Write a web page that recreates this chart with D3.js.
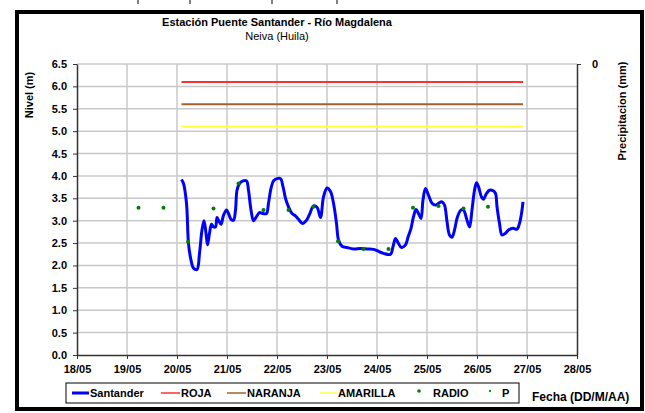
<!doctype html>
<html lang="es">
<head>
<meta charset="utf-8">
<title>Estación Puente Santander</title>
<script src="https://d3js.org/d3.v7.min.js"></script>
<style>
  body { margin: 0; background: #fff; }
  svg text { font-family: Arial, "Liberation Sans", sans-serif; }
  .bold { font-weight: bold; font-size: 11px; }
</style>
</head>
<body>
<div id="chart"></div>
<script>
// nivel Santander (dia decimal de mayo, metros)
const dias = [20.09, 20.13, 20.19, 20.23, 20.28, 20.33, 20.40, 20.45, 20.50, 20.54, 20.58, 20.61, 20.65, 20.69,
  20.73, 20.77, 20.80, 20.83, 20.88, 20.93, 20.99, 21.03, 21.08, 21.13, 21.17, 21.20, 21.25, 21.32, 21.39,
  21.43, 21.48, 21.53, 21.59, 21.65, 21.72, 21.79, 21.83, 21.88, 21.93, 22.00, 22.07, 22.12, 22.17, 22.23,
  22.30, 22.37, 22.43, 22.51, 22.59, 22.65, 22.73, 22.80, 22.87, 22.93, 23.00, 23.07, 23.13, 23.19, 23.23,
  23.30, 23.40, 23.53, 23.67, 23.80, 23.93, 24.00, 24.13, 24.27, 24.32, 24.37, 24.42, 24.49, 24.57, 24.62,
  24.68, 24.73, 24.78, 24.83, 24.88, 24.92, 24.97, 25.03, 25.10, 25.17, 25.23, 25.30, 25.35, 25.40, 25.45,
  25.50, 25.55, 25.61, 25.68, 25.73, 25.79, 25.85, 25.90, 25.95, 25.99, 26.03, 26.09, 26.13, 26.19, 26.25,
  26.32, 26.37, 26.40, 26.45, 26.50, 26.57, 26.63, 26.72, 26.80, 26.85, 26.89, 26.92]
const nivel = [3.92, 3.83, 3.39, 2.49, 2.12, 1.94, 1.91, 2.27, 2.79, 3.00, 2.72, 2.46, 2.72, 2.92,
  2.86, 2.86, 3.07, 3.01, 2.92, 3.12, 3.24, 3.16, 3.03, 3.01, 3.24, 3.68, 3.83, 3.89, 3.89,
  3.68, 3.24, 3.00, 3.09, 3.18, 3.16, 3.16, 3.39, 3.72, 3.89, 3.94, 3.94, 3.76, 3.50, 3.31,
  3.16, 3.11, 3.03, 2.94, 3.01, 3.14, 3.33, 3.30, 3.07, 3.53, 3.73, 3.65, 3.39, 2.94, 2.57,
  2.43, 2.40, 2.37, 2.38, 2.37, 2.36, 2.33, 2.27, 2.25, 2.42, 2.60, 2.51, 2.40, 2.46, 2.63,
  2.83, 3.09, 3.25, 3.16, 3.05, 3.46, 3.72, 3.57, 3.39, 3.35, 3.39, 3.42, 3.35, 2.98, 2.68,
  2.63, 2.79, 3.09, 3.24, 3.24, 3.05, 2.86, 3.24, 3.68, 3.85, 3.76, 3.53, 3.48, 3.61, 3.68,
  3.67, 3.61, 3.31, 2.94, 2.68, 2.72, 2.79, 2.83, 2.81, 2.94, 3.16, 3.42]

// lecturas por radio
const radioDias = [19.23, 19.73, 20.22, 20.73, 21.23, 21.73, 22.23, 22.73, 23.22, 23.73, 24.23, 24.72, 25.23, 25.73, 26.22]
const radioNivel = [3.29, 3.29, 2.53, 3.27, 3.83, 3.24, 3.24, 3.31, 2.54, 2.37, 2.37, 3.29, 3.33, 3.27, 3.31]

// umbrales de alerta
const alertas = ['ROJA', 'NARANJA', 'AMARILLA']
const alertaNivel = [6.1, 5.6, 5.1]
const alertaColor = ['#ff3030', '#a0622d', '#ffff40']

const fechaTicks = d3.range(18, 29)
const nivelTicks = d3.range(0, 6.51, 0.5)

const width = 645, height = 413
const svg = d3.select('#chart').append('svg')
  .attr('width', width).attr('height', height)

const x = d3.scaleLinear().domain([18, 28]).range([77, 577])
const y = d3.scaleLinear().domain([0, 6.5]).range([355, 64])

// marcas sueltas arriba del marco
svg.append('g').selectAll('line')
  .data([138, 190, 272, 337])
  .enter().append('line')
  .attr('x1', d => d).attr('x2', d => d)
  .attr('y1', 0).attr('y2', 4)
  .attr('stroke', '#000').attr('stroke-width', 1)

// marco
svg.append('rect')
  .attr('x', 17).attr('y', 12)
  .attr('width', 625).attr('height', 397)
  .attr('fill', 'none').attr('stroke', '#000').attr('stroke-width', 4)

svg.append('text').attr('class', 'bold')
  .attr('x', 277).attr('y', 26).attr('text-anchor', 'middle')
  .text('Estación Puente Santander - Río Magdalena')
svg.append('text')
  .attr('x', 277).attr('y', 40).attr('text-anchor', 'middle')
  .style('font-size', '11px')
  .text('Neiva (Huila)')

// rejilla
svg.append('g').selectAll('line')
  .data(nivelTicks.slice(1))
  .enter().append('line')
  .attr('x1', x(18)).attr('x2', x(28))
  .attr('y1', d => y(d)).attr('y2', d => y(d))
  .attr('stroke', '#c8c8c8').attr('stroke-width', 1.5)
svg.append('g').selectAll('line')
  .data(fechaTicks.slice(1, -1))
  .enter().append('line')
  .attr('x1', d => x(d)).attr('x2', d => x(d))
  .attr('y1', y(0)).attr('y2', y(6.5))
  .attr('stroke', '#c8c8c8').attr('stroke-width', 1.5)

// ejes
const yAxis = svg.append('g')
  .attr('transform', `translate(${x(18)},0)`)
  .call(d3.axisLeft(y).tickValues(nivelTicks).tickFormat(d3.format('.1f')).tickSize(4).tickSizeOuter(0))
const xAxis = svg.append('g')
  .attr('transform', `translate(0,${y(0)})`)
  .call(d3.axisBottom(x).tickValues(fechaTicks)
    .tickFormat(d => d3.format('02d')(d) + '/05').tickSize(4).tickSizeOuter(0))
const y2 = d3.scaleLinear().domain([0, 1]).range([y(6.5), y(0)])
const yAxis2 = svg.append('g')
  .attr('transform', `translate(${x(28)},0)`)
  .call(d3.axisRight(y2).tickValues([0]).tickFormat(d3.format('d')).tickSize(4).tickSizeOuter(0))
yAxis2.selectAll('text').attr('dx', 8)

;[yAxis, xAxis, yAxis2].forEach(g => {
  g.select('.domain').attr('stroke', '#333').attr('stroke-width', 1.5)
  g.selectAll('.tick line').attr('stroke', '#333')
  g.selectAll('text').attr('class', 'bold').attr('fill', '#000')
})
yAxis.selectAll('text').attr('x', -10)
xAxis.selectAll('text').attr('y', 10)

svg.append('text').attr('class', 'bold')
  .attr('transform', 'translate(33,95) rotate(-90)')
  .attr('text-anchor', 'middle').text('Nivel (m)')
svg.append('text').attr('class', 'bold')
  .attr('transform', 'translate(626,111) rotate(-90)')
  .attr('text-anchor', 'middle').text('Precipitacion (mm)')
svg.append('text').attr('class', 'bold')
  .attr('x', 532).attr('y', 401).style('font-size', '12px').text('Fecha (DD/M/AA)')

// umbrales
svg.append('g').selectAll('line')
  .data(alertaNivel)
  .enter().append('line')
  .attr('x1', x(dias[0])).attr('x2', x(dias[dias.length - 1]))
  .attr('y1', d => y(d)).attr('y2', d => y(d))
  .attr('stroke', (d, i) => alertaColor[i]).attr('stroke-width', 2)

// serie Santander
const linea = d3.line()
  .x(d => x(d[0])).y(d => y(d[1]))
  .curve(d3.curveCatmullRom)
svg.append('path')
  .datum(d3.zip(dias, nivel))
  .attr('d', linea)
  .attr('fill', 'none').attr('stroke', '#0000ff').attr('stroke-width', 3)
  .attr('stroke-linejoin', 'round')

// radio
svg.append('g').selectAll('circle')
  .data(d3.zip(radioDias, radioNivel))
  .enter().append('circle')
  .attr('cx', d => x(d[0])).attr('cy', d => y(d[1]))
  .attr('r', 2).attr('fill', '#008000')

// leyenda
const ley = svg.append('g')
ley.append('rect')
  .attr('x', 66).attr('y', 383).attr('width', 453).attr('height', 20)
  .attr('fill', '#fff').attr('stroke', '#000').attr('stroke-width', 1)
const items = [
  { nombre: 'Santander', tipo: 'line', color: '#0000ff', w: 3, lx: 72, tx: 90 },
  { nombre: alertas[0], tipo: 'line', color: alertaColor[0], w: 1.5, lx: 161, tx: 181 },
  { nombre: alertas[1], tipo: 'line', color: alertaColor[1], w: 1.5, lx: 227, tx: 247 },
  { nombre: alertas[2], tipo: 'line', color: alertaColor[2], w: 1.5, lx: 320, tx: 338 },
  { nombre: 'RADIO', tipo: 'dot', color: '#008000', lx: 419, tx: 433 },
  { nombre: 'P', tipo: 'dot', color: '#00a000', lx: 490, tx: 502 },
]
items.forEach(it => {
  if (it.tipo === 'line') {
    ley.append('line')
      .attr('x1', it.lx).attr('x2', it.tx - 1).attr('y1', 393).attr('y2', 393)
      .attr('stroke', it.color).attr('stroke-width', it.w)
  } else {
    ley.append('circle').attr('cx', it.lx).attr('cy', 391)
      .attr('r', it.nombre === 'P' ? 1.2 : 1.8).attr('fill', it.color)
  }
  ley.append('text').attr('class', 'bold')
    .attr('x', it.tx).attr('y', 397).text(it.nombre)
})
</script>
</body>
</html>
